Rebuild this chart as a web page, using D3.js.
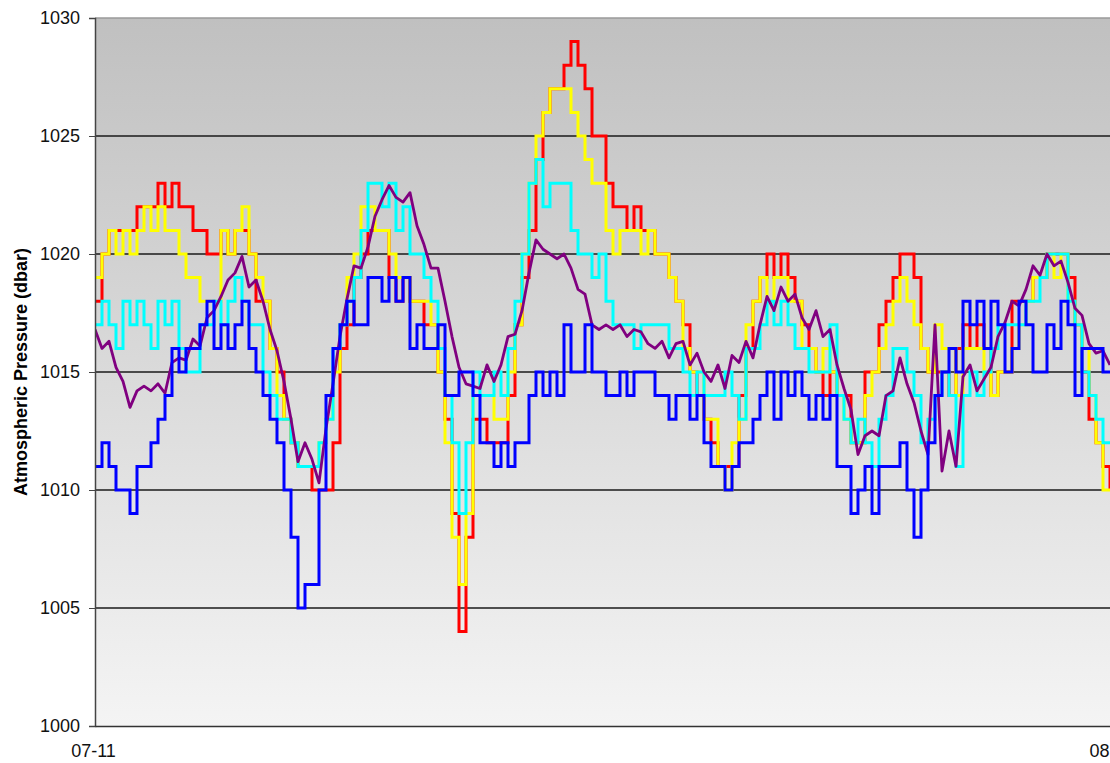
<!DOCTYPE html>
<html>
<head>
<meta charset="utf-8">
<script src="https://cdn.jsdelivr.net/npm/d3@7"></script>
<style>
  html, body { margin: 0; padding: 0; background: #ffffff; overflow: hidden; }
  svg { display: block; }
</style>
</head>
<body>
<svg id="chart" width="1110" height="763"></svg>
<script>
// Tijdas: één monster per vaste stap, van 07-11 tot de rechterrand
var xTickPos = [0, 145];
var xTickLabels = ["07-11", "08"];
var yTicks = [1000, 1005, 1010, 1015, 1020, 1025, 1030];

// Reeksen (dbar)
var redSeries = [
  1018,1020,1021,1021,1021,1021,1022,1022,1022,1023,
  1022,1023,1022,1022,1021,1021,1020,1020,1021,1020,
  1021,1021,1020,1018,1018,1016,1015,1013,1012,1011,
  1011,1010,1010,1010,1012,1016,1017,1019,1020,1021,
  1021,1021,1019,1018,1019,1018,1018,1017,1017,1015,
  1013,1009,1004,1008,1013,1013,1012,1012,1012,1014,
  1017,1019,1021,1024,1026,1027,1027,1028,1029,1028,
  1027,1025,1025,1023,1022,1022,1021,1022,1021,1021,
  1020,1020,1019,1018,1017,1015,1014,1013,1012,1011,
  1011,1011,1014,1016,1018,1019,1020,1019,1020,1019,
  1018,1017,1016,1015,1014,1015,1014,1014,1012,1012,
  1015,1015,1017,1018,1019,1020,1020,1019,1016,1015,
  1015,1015,1014,1016,1017,1016,1017,1016,1014,1015,
  1015,1018,1018,1018,1019,1019,1020,1020,1020,1019,
  1017,1015,1013,1012,1011,1010
];
var yellowSeries = [
  1019,1020,1021,1020,1021,1020,1021,1022,1021,1022,
  1021,1021,1020,1019,1019,1018,1018,1018,1021,1020,
  1021,1022,1020,1019,1018,1016,1014,1013,1012,1011,
  1011,1011,1012,1013,1015,1017,1019,1020,1022,1022,
  1021,1021,1020,1019,1019,1018,1018,1018,1017,1015,
  1012,1008,1006,1009,1014,1014,1014,1013,1013,1015,
  1017,1020,1023,1025,1026,1027,1027,1027,1026,1025,
  1024,1023,1023,1021,1020,1021,1021,1021,1020,1021,
  1020,1020,1019,1018,1016,1015,1015,1013,1013,1011,
  1010,1012,1013,1017,1018,1019,1018,1019,1019,1018,
  1018,1016,1016,1015,1016,1015,1014,1013,1012,1012,
  1014,1015,1016,1017,1018,1019,1018,1017,1016,1015,
  1017,1016,1016,1014,1016,1016,1016,1015,1014,1015,
  1015,1016,1017,1018,1019,1019,1020,1019,1020,1018,
  1017,1016,1014,1012,1010,1010
];
var cyanSeries = [
  1017,1018,1017,1016,1018,1017,1018,1017,1016,1018,
  1017,1018,1016,1015,1015,1017,1017,1018,1017,1018,
  1019,1018,1017,1017,1015,1014,1013,1013,1012,1011,
  1011,1011,1012,1013,1016,1017,1018,1019,1021,1023,
  1023,1022,1023,1021,1022,1020,1020,1019,1018,1016,
  1014,1012,1009,1012,1015,1014,1014,1015,1014,1016,
  1018,1020,1023,1024,1022,1023,1023,1023,1021,1020,
  1020,1019,1020,1018,1017,1017,1017,1016,1017,1017,
  1017,1017,1016,1016,1015,1014,1015,1014,1014,1014,
  1015,1014,1013,1016,1016,1017,1018,1017,1018,1017,
  1016,1016,1015,1015,1015,1017,1014,1013,1012,1013,
  1012,1011,1013,1014,1016,1016,1015,1014,1012,1013,
  1014,1015,1014,1011,1014,1015,1014,1015,1016,1017,
  1017,1017,1017,1018,1018,1019,1020,1020,1020,1018,
  1017,1015,1014,1013,1012,1012
];
var blueSeries = [
  1011,1012,1011,1010,1010,1009,1011,1011,1012,1013,
  1014,1016,1015,1016,1016,1017,1018,1016,1017,1016,
  1017,1018,1016,1015,1014,1013,1012,1010,1008,1005,
  1006,1006,1010,1014,1016,1017,1018,1017,1017,1019,
  1019,1018,1019,1018,1019,1016,1017,1016,1016,1017,
  1014,1014,1015,1015,1014,1012,1012,1011,1012,1011,
  1012,1012,1014,1015,1014,1015,1014,1017,1015,1015,
  1017,1015,1015,1014,1014,1015,1014,1015,1015,1015,
  1014,1014,1013,1014,1014,1013,1014,1012,1011,1011,
  1010,1011,1012,1012,1013,1014,1015,1013,1015,1014,
  1015,1014,1013,1014,1013,1014,1011,1011,1009,1010,
  1011,1009,1011,1011,1011,1012,1010,1008,1010,1012,
  1014,1015,1016,1015,1018,1017,1018,1016,1018,1017,
  1015,1016,1018,1017,1015,1015,1017,1016,1018,1017,
  1014,1016,1016,1016,1015,1015
];
var purpleSeries = [
  1016.8,1016.0,1016.3,1015.2,1014.6,1013.5,1014.2,1014.4,1014.2,1014.5,
  1014.1,1015.4,1015.6,1015.5,1016.4,1016.1,1017.3,1017.6,1018.2,1018.9,
  1019.2,1019.9,1018.6,1018.9,1018.0,1016.8,1015.9,1014.6,1013.0,1011.2,
  1012.0,1011.3,1010.3,1012.6,1014.5,1016.5,1018.1,1019.5,1019.4,1020.3,
  1021.6,1022.3,1022.9,1022.4,1022.2,1022.6,1021.2,1020.4,1019.4,1019.4,
  1018.0,1016.5,1015.2,1014.5,1014.4,1014.3,1015.3,1014.6,1015.3,1016.5,
  1016.6,1017.6,1019.2,1020.6,1020.2,1020.0,1019.8,1020.0,1019.4,1018.5,
  1018.3,1017.0,1016.8,1017.0,1016.8,1017.0,1016.5,1016.8,1016.7,1016.2,
  1016.0,1016.3,1015.6,1016.2,1016.3,1015.3,1015.8,1015.0,1014.6,1015.3,
  1014.3,1015.7,1015.4,1016.3,1015.6,1017.0,1018.2,1017.6,1018.6,1018.0,
  1018.3,1017.3,1016.8,1017.6,1016.5,1016.8,1015.3,1014.3,1013.4,1011.5,
  1012.3,1012.5,1012.3,1014.0,1014.2,1015.6,1014.5,1013.7,1012.5,1011.5,
  1017.0,1010.8,1012.5,1011.0,1014.8,1015.3,1014.2,1014.7,1015.2,1016.5,
  1017.1,1018.0,1017.8,1018.5,1019.5,1019.1,1020.0,1019.5,1019.7,1018.8,
  1017.7,1017.4,1016.2,1015.8,1015.9,1015.3
];

var svg = d3.select("#chart");
var margin = { left: 95, top: 18, right: 0, bottom: 37 };
var width = 1110 - margin.left - margin.right;
var height = 763 - margin.top - margin.bottom;

var x = d3.scaleLinear().domain([0, 145]).range([0, width]);
var y = d3.scaleLinear().domain([1000, 1030]).range([height, 0]);

// Grijze achtergrond met verloop
var defs = svg.append("defs");
var grad = defs.append("linearGradient")
    .attr("id", "plotGrad")
    .attr("x1", 0).attr("y1", 0).attr("x2", 0).attr("y2", 1);
grad.append("stop").attr("offset", "0%").attr("stop-color", "#c0c0c0");
grad.append("stop").attr("offset", "100%").attr("stop-color", "#f4f4f4");

defs.append("clipPath").attr("id", "plotClip")
  .append("rect").attr("width", width).attr("height", height);

var g = svg.append("g").attr("transform", "translate(" + margin.left + "," + margin.top + ")");

g.append("rect")
    .attr("width", width)
    .attr("height", height)
    .attr("fill", "url(#plotGrad)");

// Rasterlijnen
g.selectAll(".grid")
  .data(yTicks.filter(function(d) { return d > 1000; }))
  .enter().append("line")
    .attr("class", "grid")
    .attr("x1", 0).attr("x2", width)
    .attr("y1", function(d) { return y(d); })
    .attr("y2", function(d) { return y(d); })
    .attr("stroke", function(d) { return d === 1030 ? "#9a9a9a" : "#1a1a1a"; })
    .attr("stroke-width", 1.3);

// Lijnen
var stepLine = d3.line()
    .x(function(d, i) { return x(i); })
    .y(function(d) { return y(d); })
    .curve(d3.curveStepAfter);

var smoothLine = d3.line()
    .x(function(d, i) { return x(i); })
    .y(function(d) { return y(d); });

var lines = g.append("g").attr("clip-path", "url(#plotClip)");

var stepSeries = [
  { data: redSeries, color: "#ff0000" },
  { data: yellowSeries, color: "#ffff00" },
  { data: cyanSeries, color: "#00ffff" }
];
stepSeries.forEach(function(s) {
  lines.append("path")
      .datum(s.data)
      .attr("d", stepLine)
      .attr("fill", "none")
      .attr("stroke", s.color)
      .attr("stroke-width", 3)
      .attr("stroke-linejoin", "miter");
});

lines.append("path")
    .datum(purpleSeries)
    .attr("d", smoothLine)
    .attr("fill", "none")
    .attr("stroke", "#800080")
    .attr("stroke-width", 2.8)
    .attr("stroke-linejoin", "round");

lines.append("path")
    .datum(blueSeries)
    .attr("d", stepLine)
    .attr("fill", "none")
    .attr("stroke", "#0000ff")
    .attr("stroke-width", 3)
    .attr("stroke-linejoin", "miter");

// Assen
var yAxis = g.append("g")
    .call(d3.axisLeft(y).tickValues(yTicks).tickSize(6).tickPadding(9).tickFormat(d3.format("d")));
yAxis.select(".domain").attr("stroke", "#444").attr("stroke-width", 1.5);
yAxis.selectAll(".tick line").attr("stroke", "#444");
yAxis.selectAll("text")
    .style("font-family", "Arial, 'Liberation Sans', sans-serif")
    .style("font-size", "18px")
    .attr("fill", "#111");

var xAxis = g.append("g")
    .attr("transform", "translate(0," + height + ")")
    .call(d3.axisBottom(x).tickValues(xTickPos).tickSize(0).tickPadding(18)
      .tickFormat(function(d, i) { return xTickLabels[i]; }));
xAxis.select(".domain").attr("stroke", "#333").attr("stroke-width", 1.5);
xAxis.selectAll("text")
    .style("font-family", "Arial, 'Liberation Sans', sans-serif")
    .style("font-size", "18px")
    .attr("fill", "#111")
    .attr("text-anchor", function(d, i) { return i === xTickPos.length - 1 ? "end" : "middle"; })
    .attr("dx", function(d, i) { return i === xTickPos.length - 1 ? "-1" : "-2"; });

// Titel van de y-as
svg.append("text")
    .attr("transform", "translate(27," + (margin.top + height / 2) + ") rotate(-90)")
    .attr("text-anchor", "middle")
    .style("font-family", "Arial, 'Liberation Sans', sans-serif")
    .style("font-size", "18px")
    .style("font-weight", "bold")
    .attr("fill", "#000")
    .text("Atmospheric Pressure (dbar)");
</script>
</body>
</html>
